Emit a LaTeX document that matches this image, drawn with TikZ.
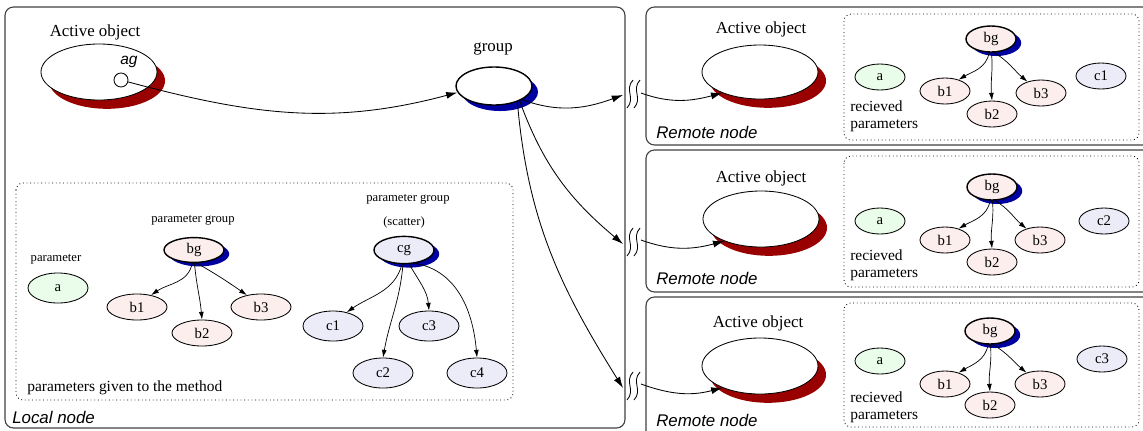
\documentclass[tikz,border=0pt]{standalone}
\usepackage{fontspec}
\setmainfont{Liberation Serif}
\setsansfont{Liberation Sans}
\usetikzlibrary{shapes.geometric, shadows, arrows.meta}

\definecolor{aored}{RGB}{153,0,0}
\definecolor{grpblue}{RGB}{0,0,160}
\definecolor{pargreen}{RGB}{234,252,234}
\definecolor{parpink}{RGB}{253,238,238}
\definecolor{parlav}{RGB}{236,236,248}

\begin{document}
\begin{tikzpicture}[x=0.025cm, y=-0.025cm]


\tikzset{box/.style={draw=black!75, line width=0.8pt, rounded corners=6pt}}
\tikzset{dotbox/.style={draw, dotted, line width=0.6pt, rounded corners=5pt}}
\tikzset{lbl/.style={font=\fontsize{12}{14}\selectfont, inner sep=0}}
\tikzset{smalllbl/.style={font=\fontsize{9}{11}\selectfont, inner sep=0}}
\tikzset{recv/.style={font=\fontsize{11}{12}\selectfont, inner sep=0, anchor=west, align=left}}
\tikzset{where/.style={font=\sffamily\itshape\fontsize{12}{14}\selectfont, inner sep=0, anchor=west}}
\tikzset{aobj/.style={shape=ellipse, draw=black, fill=white, inner sep=0, line width=0.6pt, minimum width=2.9cm, minimum height=1.4cm, general shadow={fill=aored, shadow xshift=0.2cm, shadow yshift=-0.22cm}}}
\tikzset{grpobj/.style={shape=ellipse, draw=black, fill=white, inner sep=0, line width=1pt, minimum width=1.9cm, minimum height=0.95cm, general shadow={fill=grpblue, shadow xshift=0.15cm, shadow yshift=-0.15cm}}}
\tikzset{par/.style={shape=ellipse, draw=black, inner sep=0, line width=0.6pt, font=\fontsize{10.5}{12}\selectfont, minimum width=1.5cm, minimum height=0.68cm}}
\tikzset{rpar/.style={par, minimum width=1.25cm, minimum height=0.65cm}}
\tikzset{apar/.style={fill=pargreen}}
\tikzset{bpar/.style={fill=parpink}}
\tikzset{cpar/.style={fill=parlav}}
\tikzset{gpar/.style={line width=1pt, general shadow={fill=grpblue, shadow xshift=0.13cm, shadow yshift=-0.1cm}}}
\tikzset{flow/.style={->, >={Latex[length=8pt, width=5pt]}, line width=0.6pt}}
\tikzset{pflow/.style={->, >={Latex[length=5.5pt, width=3.5pt]}, line width=0.5pt}}

\useasboundingbox (0,0) rectangle (1143,430);

% local node
\draw[box] (5,7) rectangle (625,428);
\draw[dotbox] (16,183) rectangle (513,400);
\node[lbl] (aotxt) at (95,32) {Active object};
\node[aobj] (ao) at (99,72) {};
\node[font=\sffamily\itshape\fontsize{11}{13}\selectfont, inner sep=0] (agtxt) at (129,62) {ag};
\node[shape=circle, draw, inner sep=0, minimum size=0.35cm, line width=0.6pt] (agc) at (121,80) {};
\node[lbl] (grptxt) at (493,49) {group};
\node[grpobj] (grp) at (494,86) {};
\node[smalllbl] (partxt) at (56,259) {parameter};
\node[par, apar, minimum height=0.75cm] (a) at (58,288) {a};
\node[smalllbl] (bgtxt) at (193,220) {parameter group};
\node[par, bpar, gpar, minimum height=0.62cm] (bg) at (194,250) {bg};
\node[par, bpar, minimum height=0.65cm] (b1) at (137,307) {b1};
\node[par, bpar, minimum height=0.65cm] (b2) at (202,333) {b2};
\node[par, bpar, minimum height=0.65cm] (b3) at (261,307) {b3};
\node[smalllbl] (cgtxt) at (408,199) {parameter group};
\node[smalllbl] (cgtxt2) at (404,222) {(scatter)};
\node[par, cpar, gpar] (cg) at (404,250) {cg};
\node[par, cpar, minimum height=0.75cm] (c1) at (333,326) {c1};
\node[par, cpar, minimum height=0.75cm] (c2) at (383,373) {c2};
\node[par, cpar, minimum height=0.75cm] (c3) at (429,326) {c3};
\node[par, cpar, minimum height=0.75cm] (c4) at (477,373) {c4};
\node[font=\fontsize{11}{13}\selectfont, inner sep=0, anchor=west] (given) at (27,388) {parameters given to the method};
\node[where] (local) at (12,417) {Local node};
\draw[pflow] (bg.262) to[out=-100, in=35] (b1.40);
\draw[pflow] (bg.272) to[out=-85, in=95] (b2.north);
\draw[pflow] (bg.282) to[out=-30, in=145] (b3.140);
\draw[pflow] (cg.262) to[out=-105, in=35] (c1.45);
\draw[pflow] (cg.266) to[out=-95, in=80] (c2.north);
\draw[pflow] (cg.290) to[out=-60, in=95] (c3.north);
\draw[pflow] (cg.310) to[out=-10, in=95] (c4.north);
\draw[flow] (agc) to[out=-15, in=195] (grp.190);

% breaks between the nodes
\coordinate (brkin1) at (623,95);
\coordinate (brkin2) at (623,244);
\coordinate (brkin3) at (623,388);
\coordinate (brkout1) at (641,93);
\coordinate (brkout2) at (641,240);
\coordinate (brkout3) at (641,384);
\draw[flow] (grp.-26) to[out=-20, in=200] (brkin1);
\draw[flow] (grp.-30) to[out=-70, in=140] (brkin2);
\draw[flow] (grp.-34) to[out=-85, in=122] (brkin3);
\foreach \y in {94,242,386} {
  \draw[line width=0.6pt] (627,\y+14) .. controls (636,\y+4) and (624,\y-4) .. (633,\y-14);
  \draw[line width=0.6pt] (634,\y+14) .. controls (643,\y+4) and (631,\y-4) .. (640,\y-14);
}

% remote node 1
\draw[box] (646,7) rectangle (1155,145);
\draw[dotbox] (844,14) rectangle (1139,140);
\node[lbl] (rtxt1) at (761,29) {Active object};
\node[aobj, minimum height=1.35cm] (rao1) at (760,72) {};
\node[rpar, apar] (ra1) at (880,77) {a};
\node[rpar, bpar, gpar] (rbg1) at (991,39) {bg};
\node[rpar, bpar] (rb11) at (945,91) {b1};
\node[rpar, bpar] (rb21) at (992,114) {b2};
\node[rpar, bpar] (rb31) at (1041,93) {b3};
\node[rpar, cpar] (rc1) at (1101,76) {c1};
\node[recv] (rrecv1) at (850,116) {recieved\\parameters};
\node[where] (remote1) at (656,132) {Remote node};
\draw[pflow] (rbg1.262) to[out=-100, in=30] (rb11.40);
\draw[pflow] (rbg1.272) to[out=-85, in=95] (rb21.north);
\draw[pflow] (rbg1.282) to[out=-30, in=140] (rb31.140);
\draw[flow] (brkout1) to[out=-20, in=195] (rao1.209);

% remote node 2
\draw[box] (646,150) rectangle (1155,292);
\draw[dotbox] (844,156) rectangle (1139,287);
\node[lbl] (rtxt2) at (761,178) {Active object};
\node[aobj] (rao2) at (761,219) {};
\node[rpar, apar] (ra2) at (880,221) {a};
\node[rpar, bpar, gpar] (rbg2) at (992,187) {bg};
\node[rpar, bpar] (rb12) at (945,240) {b1};
\node[rpar, bpar] (rb22) at (992,262) {b2};
\node[rpar, bpar] (rb32) at (1040,240) {b3};
\node[rpar, cpar] (rc2) at (1104,221) {c2};
\node[recv] (rrecv2) at (850,265) {recieved\\parameters};
\node[where] (remote2) at (656,278) {Remote node};
\draw[pflow] (rbg2.262) to[out=-100, in=30] (rb12.40);
\draw[pflow] (rbg2.272) to[out=-85, in=95] (rb22.north);
\draw[pflow] (rbg2.282) to[out=-30, in=140] (rb32.140);
\draw[flow] (brkout2) to[out=-20, in=195] (rao2.211);

% remote node 3
\draw[box] (646,297) rectangle (1155,440);
\draw[dotbox] (844,303) rectangle (1139,427);
\node[lbl] (rtxt3) at (758,323) {Active object};
\node[aobj] (rao3) at (760,366) {};
\node[rpar, apar] (ra3) at (880,361) {a};
\node[rpar, bpar, gpar] (rbg3) at (990,331) {bg};
\node[rpar, bpar] (rb13) at (945,384) {b1};
\node[rpar, bpar] (rb23) at (990,405) {b2};
\node[rpar, bpar] (rb33) at (1040,384) {b3};
\node[rpar, cpar] (rc3) at (1102,359) {c3};
\node[recv] (rrecv3) at (850,407) {recieved\\parameters};
\node[where] (remote3) at (656,420) {Remote node};
\draw[pflow] (rbg3.262) to[out=-100, in=30] (rb13.40);
\draw[pflow] (rbg3.272) to[out=-85, in=95] (rb23.north);
\draw[pflow] (rbg3.282) to[out=-30, in=140] (rb33.140);
\draw[flow] (brkout3) to[out=-20, in=195] (rao3.210);

\end{tikzpicture}
\end{document}
